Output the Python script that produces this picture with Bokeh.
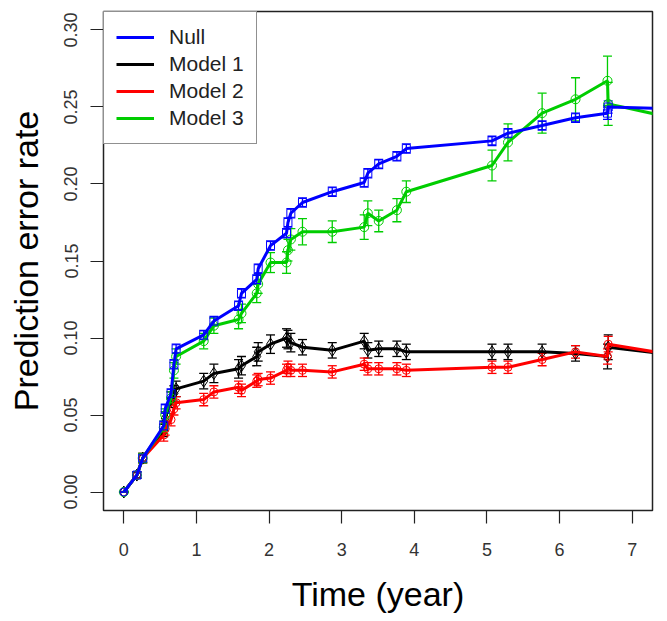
from bokeh.plotting import figure
from bokeh.models import (ColumnDataSource, Whisker, TeeHead, Legend, LegendItem,
                          FixedTicker, Range1d, NumeralTickFormatter)
from bokeh.embed import file_html
from bokeh.resources import INLINE

# ---- data ----
time = [0, 0.18, 0.26, 0.55, 0.57, 0.65, 0.69, 0.72, 1.10, 1.24, 1.58, 1.62, 1.83, 1.85,
        2.02, 2.24, 2.26, 2.30, 2.46, 2.87, 3.31, 3.36, 3.51, 3.76, 3.89, 5.07, 5.29,
        5.76, 6.22, 6.66, 6.67, 7.50]

null_rate = [0.000, 0.011, 0.022, 0.043, 0.054, 0.064, 0.083, 0.093, 0.102, 0.111, 0.121,
             0.129, 0.138, 0.145, 0.160, 0.168, 0.175, 0.181, 0.188, 0.195, 0.201, 0.207,
             0.213, 0.218, 0.223, 0.228, 0.233, 0.238, 0.243, 0.246, 0.250, 0.249]
null_err = [0.000, 0.002, 0.002, 0.003, 0.003, 0.003, 0.003, 0.003, 0.003, 0.003, 0.003,
            0.003, 0.003, 0.003, 0.003, 0.003, 0.003, 0.003, 0.003, 0.003, 0.003, 0.003,
            0.003, 0.003, 0.003, 0.003, 0.003, 0.003, 0.003, 0.004, 0.004, 0.004]

m1_rate = [0.000, 0.011, 0.022, 0.040, 0.048, 0.060, 0.064, 0.067, 0.072, 0.077, 0.080,
           0.082, 0.088, 0.091, 0.096, 0.100, 0.099, 0.097, 0.094, 0.092, 0.098, 0.092,
           0.093, 0.093, 0.091, 0.091, 0.091, 0.091, 0.090, 0.088, 0.094, 0.0895]
m1_err = [0.000, 0.002, 0.003, 0.004, 0.004, 0.005, 0.005, 0.005, 0.005, 0.006, 0.006,
          0.006, 0.006, 0.006, 0.006, 0.006, 0.006, 0.006, 0.005, 0.005, 0.005, 0.005,
          0.005, 0.005, 0.005, 0.005, 0.005, 0.005, 0.005, 0.008, 0.008, 0.008]

m2_rate = [0.000, 0.011, 0.022, 0.037, 0.041, 0.047, 0.054, 0.058, 0.060, 0.065, 0.068,
           0.066, 0.072, 0.073, 0.074, 0.079, 0.081, 0.079, 0.079, 0.078, 0.083, 0.080,
           0.080, 0.080, 0.079, 0.081, 0.081, 0.086, 0.091, 0.088, 0.096, 0.0895]
m2_err = [0.000, 0.002, 0.003, 0.004, 0.004, 0.004, 0.004, 0.004, 0.004, 0.004, 0.004,
          0.004, 0.004, 0.004, 0.004, 0.004, 0.004, 0.004, 0.004, 0.004, 0.004, 0.004,
          0.004, 0.004, 0.004, 0.004, 0.004, 0.004, 0.004, 0.005, 0.005, 0.005]

m3_rate = [0.000, 0.011, 0.022, 0.042, 0.050, 0.061, 0.079, 0.088, 0.098, 0.108, 0.112,
           0.116, 0.129, 0.135, 0.149, 0.149, 0.157, 0.164, 0.169, 0.169, 0.172, 0.181,
           0.176, 0.183, 0.195, 0.212, 0.227, 0.246, 0.255, 0.267, 0.252, 0.2435]
m3_err = [0.000, 0.002, 0.003, 0.004, 0.004, 0.004, 0.005, 0.005, 0.005, 0.005, 0.006,
          0.006, 0.006, 0.006, 0.0065, 0.007, 0.007, 0.007, 0.0085, 0.007, 0.008, 0.008,
          0.007, 0.0075, 0.007, 0.010, 0.012, 0.013, 0.014, 0.016, 0.014, 0.014]

series_names = ["Null", "Model 1", "Model 2", "Model 3"]
x_ticks = [0, 1, 2, 3, 4, 5, 6, 7]
y_ticks = [0.00, 0.05, 0.10, 0.15, 0.20, 0.25, 0.30]

# ---- figure ----
p = figure(width=660, height=615, output_backend="svg", toolbar_location=None,
           x_range=Range1d(-0.28, 7.28), y_range=Range1d(-0.012, 0.312),
           min_border_left=103, min_border_right=8, min_border_top=11, min_border_bottom=105)
p.background_fill_color = "white"
p.border_fill_color = "white"
p.outline_line_color = "#222222"
p.outline_line_width = 1.5
p.xgrid.visible = False
p.ygrid.visible = False

FONT = "Liberation Sans"
for ax in (p.xaxis[0], p.yaxis[0]):
    ax.axis_line_color = None
    ax.major_tick_line_color = "#222222"
    ax.major_tick_line_width = 1.2
    ax.major_tick_out = 13
    ax.major_tick_in = 0
    ax.minor_tick_line_color = None
    ax.major_label_text_font = FONT
    ax.major_label_text_font_size = "18px"
    ax.major_label_text_color = "#333333"
    ax.axis_label_text_font = FONT
    ax.axis_label_text_font_style = "normal"
    ax.axis_label_text_font_size = "34px"
    ax.axis_label_text_color = "black"

p.xaxis.ticker = FixedTicker(ticks=x_ticks)
p.yaxis.ticker = FixedTicker(ticks=y_ticks)
p.yaxis.formatter = NumeralTickFormatter(format="0.00")
p.yaxis.major_label_orientation = "vertical"
p.xaxis.axis_label = "Time (year)"
p.yaxis.axis_label = "Prediction error rate"
p.xaxis.major_label_standoff = 19
p.yaxis.major_label_standoff = 13
p.xaxis.axis_label_standoff = 16
p.yaxis.axis_label_standoff = 17

styles = [
    ("Null", null_rate, null_err, "#0000FF", "square", 8),
    ("Model 1", m1_rate, m1_err, "black", "diamond", 12),
    ("Model 2", m2_rate, m2_err, "#FF0000", "circle", 8),
    ("Model 3", m3_rate, m3_err, "#00CD00", "circle", 9),
]

line_renderers = {}
# draw order: Model 1, Model 2, Model 3, Null (Null on top)
for name, rate, err, color, marker, msize in [styles[1], styles[2], styles[3], styles[0]]:
    markers = [marker] * len(time)
    if name == "Null":
        markers[0] = "circle"
    src = ColumnDataSource(dict(
        t=time, r=rate,
        lo=[a - b for a, b in zip(rate, err)],
        hi=[a + b for a, b in zip(rate, err)],
        m=markers,
    ))
    lr = p.line("t", "r", source=src, line_color=color, line_width=3)
    w = Whisker(base="t", upper="hi", lower="lo", source=src, dimension="height",
                line_color=color, line_width=1.3,
                upper_head=TeeHead(size=9, line_color=color, line_width=1.3),
                lower_head=TeeHead(size=9, line_color=color, line_width=1.3))
    p.add_layout(w)
    p.scatter("t", "r", source=src, marker="m", size=msize, fill_color=None,
              line_color=color, line_width=1.0)
    line_renderers[name] = lr

items = [LegendItem(label=name, renderers=[line_renderers[name]]) for name in series_names]

legend = Legend(items=items, location="top_left", margin=0, padding=12, spacing=1,
                label_text_font=FONT, label_text_font_size="21px", label_text_color="#222222",
                label_height=26, glyph_height=26, glyph_width=38, label_standoff=15,
                border_line_color="#222222", border_line_width=1.5,
                background_fill_color="white", background_fill_alpha=1.0)
p.add_layout(legend)

open("out.html", "w").write(file_html(p, INLINE))
